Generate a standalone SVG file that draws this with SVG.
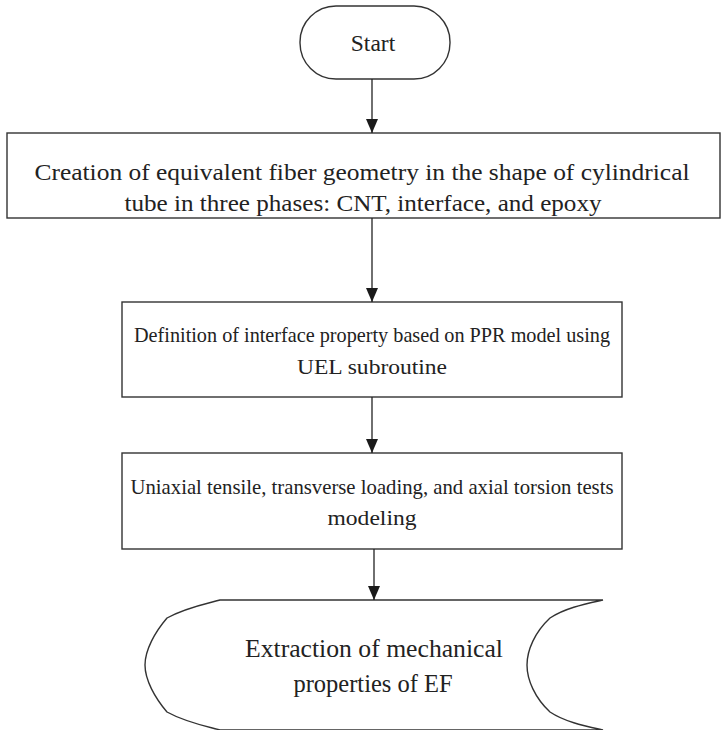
<svg xmlns="http://www.w3.org/2000/svg" width="726" height="730" viewBox="0 0 726 730">
<defs>
<style>
.sh{fill:#fff;stroke:#333;stroke-width:1.4}
.t{font-family:"Liberation Serif","Times New Roman",serif;fill:#222;text-anchor:middle}
.c{stroke:#222;stroke-width:1.3;fill:none}
</style>
<marker id="ah" markerWidth="14" markerHeight="12" refX="14" refY="6" orient="auto" markerUnits="userSpaceOnUse" viewBox="0 0 14 12">
<path d="M0,0 L14,6 L0,12 Z" fill="#1a1a1a"/>
</marker>
</defs>
<g id="start">
<rect class="sh" x="300" y="6" width="150" height="73" rx="36" ry="36"/>
<text class="t" x="373" y="51" font-size="23.5">Start</text>
</g>
<g id="creation">
<rect class="sh" x="7" y="133" width="713" height="85"/>
<text class="t" x="362" y="180" font-size="24" textLength="655" lengthAdjust="spacingAndGlyphs">Creation of equivalent fiber geometry in the shape of cylindrical</text>
<text class="t" x="363" y="211" font-size="24" textLength="477" lengthAdjust="spacingAndGlyphs">tube in three phases: CNT, interface, and epoxy</text>
</g>
<g id="definition">
<rect class="sh" x="122" y="302" width="500" height="95"/>
<text class="t" x="372" y="342" font-size="21.5" textLength="476" lengthAdjust="spacingAndGlyphs">Definition of interface property based on PPR model using</text>
<text class="t" x="372" y="374" font-size="21.5" textLength="150" lengthAdjust="spacingAndGlyphs">UEL subroutine</text>
</g>
<g id="uniaxial">
<rect class="sh" x="122" y="453" width="500" height="96"/>
<text class="t" x="372" y="494" font-size="21.5" textLength="483" lengthAdjust="spacingAndGlyphs">Uniaxial tensile, transverse loading, and axial torsion tests</text>
<text class="t" x="372" y="525" font-size="21.5" textLength="89" lengthAdjust="spacingAndGlyphs">modeling</text>
</g>
<g id="extraction">
<path class="sh" d="M220,600 L603,600 C585,604 565,608 550,618 C535,632 527,650 527,665 C527,680 535,698 550,712 C565,722 585,726 603,730 L220,730 C205,726 185,722 167,712 C155,698 145,680 145,665 C145,650 155,632 167,618 C185,608 205,604 220,600 Z"/>
<text class="t" x="374" y="657" font-size="24.5" textLength="258" lengthAdjust="spacingAndGlyphs">Extraction of mechanical</text>
<text class="t" x="373" y="692" font-size="24.5">properties of EF</text>
</g>
<g id="connectors">
<line class="c" x1="372" y1="79" x2="372" y2="133" marker-end="url(#ah)"/>
<line class="c" x1="372" y1="218" x2="372" y2="302" marker-end="url(#ah)"/>
<line class="c" x1="372" y1="397" x2="372" y2="453" marker-end="url(#ah)"/>
<line class="c" x1="374" y1="549" x2="374" y2="600" marker-end="url(#ah)"/>
</g>
</svg>
